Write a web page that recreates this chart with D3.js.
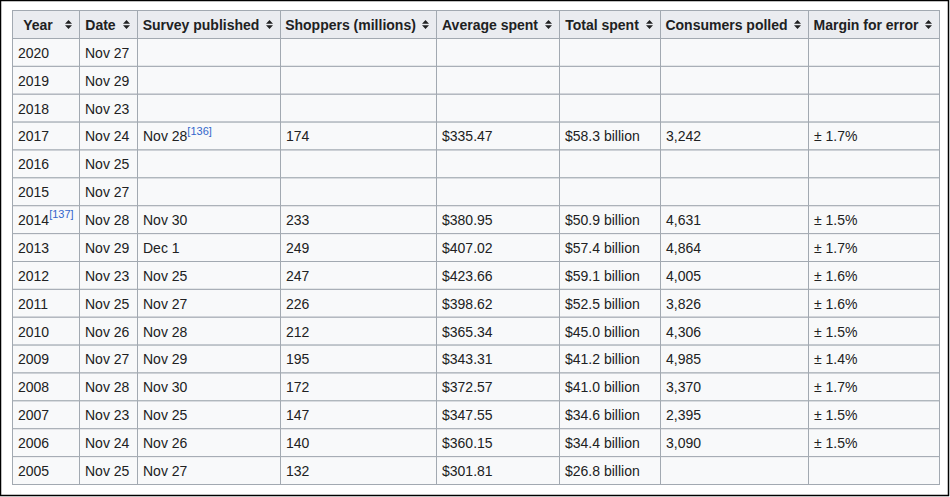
<!DOCTYPE html>
<html>
<head>
<meta charset="utf-8">
<script src="https://cdn.jsdelivr.net/npm/d3@7"></script>
<style>
  html, body { margin: 0; padding: 0; background: #fff; }
  svg { display: block; font-family: "Liberation Sans", Arial, sans-serif; }
</style>
</head>
<body>
<div id="chart"></div>
<script>
// Table data, one array per column
const headers = ['Year', 'Date', 'Survey published', 'Shoppers (millions)', 'Average spent', 'Total spent', 'Consumers polled', 'Margin for error'];
const years = ['2020', '2019', '2018', '2017', '2016', '2015', '2014', '2013', '2012', '2011', '2010', '2009', '2008', '2007', '2006', '2005'];
const yearRefs = ['', '', '', '', '', '', '[137]', '', '', '', '', '', '', '', '', ''];
const dates = ['Nov 27', 'Nov 29', 'Nov 23', 'Nov 24', 'Nov 25', 'Nov 27', 'Nov 28', 'Nov 29', 'Nov 23', 'Nov 25', 'Nov 26', 'Nov 27', 'Nov 28', 'Nov 23', 'Nov 24', 'Nov 25'];
const published = ['', '', '', 'Nov 28', '', '', 'Nov 30', 'Dec 1', 'Nov 25', 'Nov 27', 'Nov 28', 'Nov 29', 'Nov 30', 'Nov 25', 'Nov 26', 'Nov 27'];
const publishedRefs = ['', '', '', '[136]', '', '', '', '', '', '', '', '', '', '', '', ''];
const shoppers = ['', '', '', '174', '', '', '233', '249', '247', '226', '212', '195', '172', '147', '140', '132'];
const avgSpent = ['', '', '', '$335.47', '', '', '$380.95', '$407.02', '$423.66', '$398.62', '$365.34', '$343.31', '$372.57', '$347.55', '$360.15', '$301.81'];
const totalSpent = ['', '', '', '$58.3 billion', '', '', '$50.9 billion', '$57.4 billion', '$59.1 billion', '$52.5 billion', '$45.0 billion', '$41.2 billion', '$41.0 billion', '$34.6 billion', '$34.4 billion', '$26.8 billion'];
const polled = ['', '', '', '3,242', '', '', '4,631', '4,864', '4,005', '3,826', '4,306', '4,985', '3,370', '2,395', '3,090', ''];
const margin = ['', '', '', '± 1.7%', '', '', '± 1.5%', '± 1.7%', '± 1.6%', '± 1.6%', '± 1.5%', '± 1.4%', '± 1.7%', '± 1.5%', '± 1.5%', ''];

const columns = [years, dates, published, shoppers, avgSpent, totalSpent, polled, margin];
const refs = [yearRefs, null, publishedRefs, null, null, null, null, null];

const width = 950, height = 497;
const colEdges = [12, 79, 137, 280, 436, 559, 660, 808, 939];
const tableTop = 10, headH = 28, tableBottom = 484;

const svg = d3.select('#chart').append('svg')
    .attr('width', width)
    .attr('height', height);

// outer frame
svg.append('rect')
    .attr('x', 0.5).attr('y', 0.5)
    .attr('width', 948).attr('height', 495)
    .attr('fill', '#fff')
    .attr('stroke', '#000')
    .attr('stroke-width', 1.5);

const y = d3.scaleBand()
    .domain(years)
    .range([tableTop + headH, tableBottom]);

// header
const head = svg.append('g').attr('class', 'header');
headers.forEach((h, i) => {
    const x0 = colEdges[i], x1 = colEdges[i + 1];
    head.append('rect')
        .attr('x', x0 + 0.5).attr('y', tableTop + 0.5)
        .attr('width', x1 - x0).attr('height', headH)
        .attr('fill', '#eaecf0')
        .attr('stroke', '#a2a9b1');
    // centred text, leaving room for the sort arrow
    const cx = (x0 + 6 + x1 - 21) / 2;
    head.append('text')
        .attr('x', cx)
        .attr('y', tableTop + headH / 2 + 1)
        .attr('dy', '0.35em')
        .attr('text-anchor', 'middle')
        .attr('font-size', 14)
        .attr('font-weight', 'bold')
        .attr('fill', '#202122')
        .text(h);
    // sort arrows
    const ax = x1 - 10.5, ay = tableTop + headH / 2 + 0.5;
    head.append('path')
        .attr('d', `M${ax - 3.5},${ay - 0.7} L${ax},${ay - 4.5} L${ax + 3.5},${ay - 0.7} Z M${ax - 3.5},${ay + 0.7} L${ax},${ay + 4.5} L${ax + 3.5},${ay + 0.7} Z`)
        .attr('fill', '#202122');
});

// body rows
const rows = svg.selectAll('.row')
    .data(years.map((yr, r) => r))
    .enter()
    .append('g')
    .attr('class', 'row')
    .attr('transform', r => `translate(0, ${y(years[r])})`);

columns.forEach((col, i) => {
    const x0 = colEdges[i], x1 = colEdges[i + 1];
    rows.append('rect')
        .attr('x', x0 + 0.5).attr('y', 0.5)
        .attr('width', x1 - x0).attr('height', y.bandwidth())
        .attr('fill', '#f8f9fa')
        .attr('stroke', '#a2a9b1');

    const t = rows.append('text')
        .attr('x', x0 + 6)
        .attr('y', y.bandwidth() / 2 + 1)
        .attr('dy', '0.35em')
        .attr('font-size', 14)
        .attr('fill', '#202122');
    t.append('tspan').text(r => col[r]);
    if (refs[i]) {
        t.append('tspan')
            .attr('font-size', 11)
            .attr('dy', '-0.6em')
            .attr('fill', '#3366cc')
            .text(r => refs[i][r]);
    }
});
</script>
</body>
</html>
